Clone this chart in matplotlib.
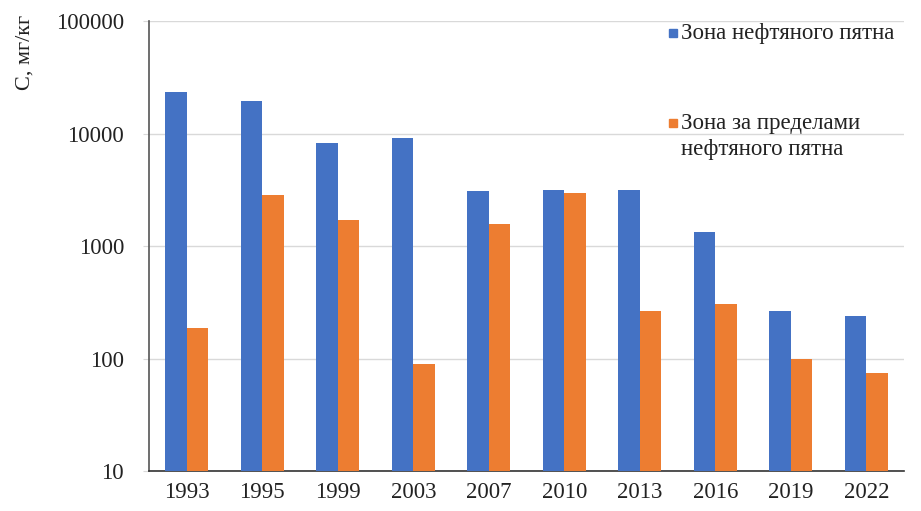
import matplotlib.pyplot as plt
from matplotlib.patches import Rectangle
from matplotlib.ticker import FixedLocator, FuncFormatter, NullLocator
import numpy as np

plt.rcParams['font.family'] = ['Liberation Serif', 'DejaVu Serif']

years = ['1993', '1995', '1999', '2003', '2007', '2010', '2013', '2016', '2019', '2022']
oil_zone = [23600, 19600, 8150, 9200, 3080, 3150, 3150, 1330, 262, 241]
outside_zone = [185, 2840, 1700, 90, 1580, 2960, 267, 308, 98, 74]
label_oil = 'Зона нефтяного пятна'
label_out = 'Зона за пределами\nнефтяного пятна'

blue = '#4472C4'
orange = '#ED7D31'
txt = '#222222'

fig = plt.figure(figsize=(9.21, 5.11), dpi=100)
ax = fig.add_axes([149 / 921, 40 / 511, 755 / 921, 450 / 511])

x = np.arange(len(years))
w = 0.285
ax.bar(x - w / 2, oil_zone, width=w, color=blue, zorder=3)
ax.bar(x + w / 2, outside_zone, width=w, color=orange, zorder=3)

ax.set_yscale('log')
ax.set_ylim(10, 100000)
ax.set_xlim(-0.5, len(years) - 0.5)
ax.yaxis.set_major_locator(FixedLocator([10, 100, 1000, 10000, 100000]))
ax.yaxis.set_minor_locator(NullLocator())
ax.yaxis.set_major_formatter(FuncFormatter(lambda v, p: f'{int(round(v))}'))
ax.set_xticks(x)
ax.set_xticklabels(years)

# light gridlines, Excel-like axes
ax.grid(axis='y', color='#d9d9d9', linewidth=1.0, zorder=0)
for s in ['top', 'right']:
    ax.spines[s].set_visible(False)
ax.spines['left'].set_color('#555555')
ax.spines['bottom'].set_color('#333333')
ax.spines['left'].set_linewidth(1.2)
ax.spines['bottom'].set_linewidth(1.2)
ax.tick_params(axis='y', length=4, color='#d9d9d9', pad=14, labelsize=16.5, labelcolor=txt)
ax.tick_params(axis='x', length=0, pad=8, labelsize=16.5, labelcolor=txt)

fig.text(25 / 921, 1 - 52 / 511, 'С, мг/кг', rotation=90, ha='center', va='center',
         fontsize=16, color=txt)

# legend drawn by hand to match the wide spacing of the original
fig.add_artist(Rectangle((669 / 921, 1 - 37 / 511), 8 / 921, 8 / 511,
                         transform=fig.transFigure, color=blue))
fig.text(681 / 921, 1 - 33 / 511, label_oil, ha='left', va='center', fontsize=16.5, color=txt)
fig.add_artist(Rectangle((669 / 921, 1 - 127 / 511), 8 / 921, 8 / 511,
                         transform=fig.transFigure, color=orange))
fig.text(681 / 921, 1 - 123 / 511, label_out.split('\n')[0], ha='left', va='center',
         fontsize=16.5, color=txt)
fig.text(681 / 921, 1 - 149 / 511, label_out.split('\n')[1], ha='left', va='center',
         fontsize=16.5, color=txt)

fig.savefig('out.png', dpi=100)
